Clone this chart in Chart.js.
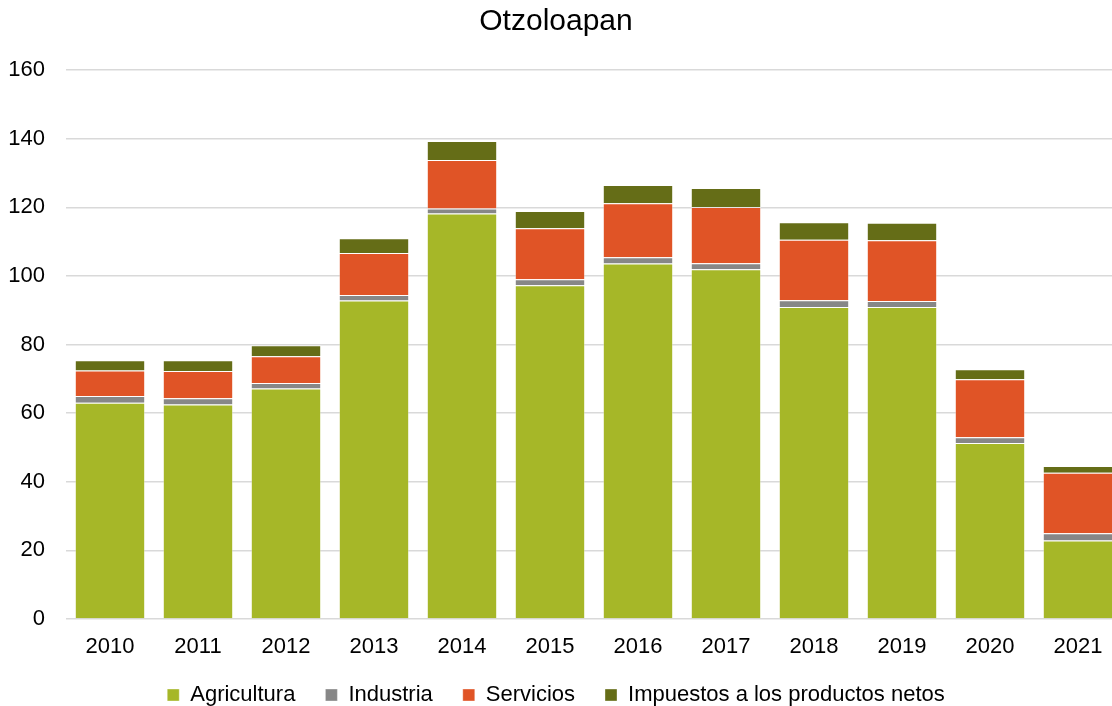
<!DOCTYPE html>
<html>
<head>
    <meta charset="utf-8" />
    <title>Otzoloapan</title>
    <script src="https://cdn.jsdelivr.net/npm/chart.js@4/dist/chart.umd.min.js"></script>
    <style>
        body, html {
            background: white;
            margin: 0;
            padding: 0;
            overflow: hidden;
        }
        #chartContainer {
            width: 1122px;
            height: 706px;
        }
    </style>
</head>
<body>
    <div id="chartContainer">
        <canvas id="myChart"></canvas>
    </div>

    <script>
        // years on the x axis
        const years = ['2010', '2011', '2012', '2013', '2014', '2015', '2016', '2017', '2018', '2019', '2020', '2021'];

        // stacked components
        const agricultura = [63.0, 62.5, 67.2, 92.8, 118.2, 97.3, 103.6, 101.9, 90.9, 90.9, 51.3, 22.9];
        const industria   = [2.0, 1.8, 1.6, 1.6, 1.4, 1.7, 1.8, 1.8, 2.0, 1.8, 1.7, 2.1];
        const servicios   = [7.4, 8.0, 7.8, 12.3, 14.2, 14.9, 15.8, 16.4, 17.6, 17.7, 16.9, 17.6];
        const impuestos   = [3.0, 3.1, 3.2, 4.3, 5.5, 5.0, 5.3, 5.5, 5.1, 5.1, 2.9, 2.0];

        const FONT = 'Liberation Sans, Arial, sans-serif';

        function series(label, data, color) {
            return {
                label,
                data,
                backgroundColor: color,
                borderColor: 'rgba(255,255,255,0.35)',
                borderWidth: 1,
                barPercentage: 0.8,
                categoryPercentage: 1.0
            };
        }

        const ctx = document.getElementById('myChart').getContext('2d');
        const myChart = new Chart(ctx, {
            type: 'bar',
            data: {
                labels: years,
                datasets: [
                    series('Agricultura', agricultura, '#a6b728'),
                    series('Industria', industria, '#878787'),
                    series('Servicios', servicios, '#e05426'),
                    series('Impuestos a los productos netos', impuestos, '#656d17')
                ]
            },
            options: {
                responsive: true,
                maintainAspectRatio: false,
                animation: false,
                // canvas is a bit wider than the window so the last bar runs to the edge
                layout: { padding: { left: -10, right: 0, top: 0, bottom: -10 } },
                scales: {
                    x: {
                        stacked: true,
                        grid: { display: false, drawTicks: false },
                        border: { display: false },
                        ticks: { color: '#000', font: { family: FONT, size: 22 }, padding: 15 },
                        afterFit: (scale) => { scale.height = 35; }
                    },
                    y: {
                        stacked: true,
                        min: 0,
                        max: 160,
                        ticks: { stepSize: 20, color: '#000', font: { family: FONT, size: 22 }, padding: 21 },
                        grid: { color: '#d9d9d9', lineWidth: 1.5, drawTicks: false },
                        border: { display: false },
                        afterFit: (scale) => { scale.width = 76; }
                    }
                },
                plugins: {
                    title: {
                        display: true,
                        text: 'Otzoloapan',
                        color: '#000',
                        font: { family: FONT, size: 30, weight: 'normal' },
                        padding: { top: 4, bottom: 30 }
                    },
                    legend: {
                        position: 'bottom',
                        labels: {
                            color: '#000',
                            font: { family: FONT, size: 22 },
                            boxWidth: 12,
                            boxHeight: 12,
                            padding: 30
                        }
                    },
                    tooltip: { enabled: false }
                }
            }
        });
    </script>
</body>
</html>
